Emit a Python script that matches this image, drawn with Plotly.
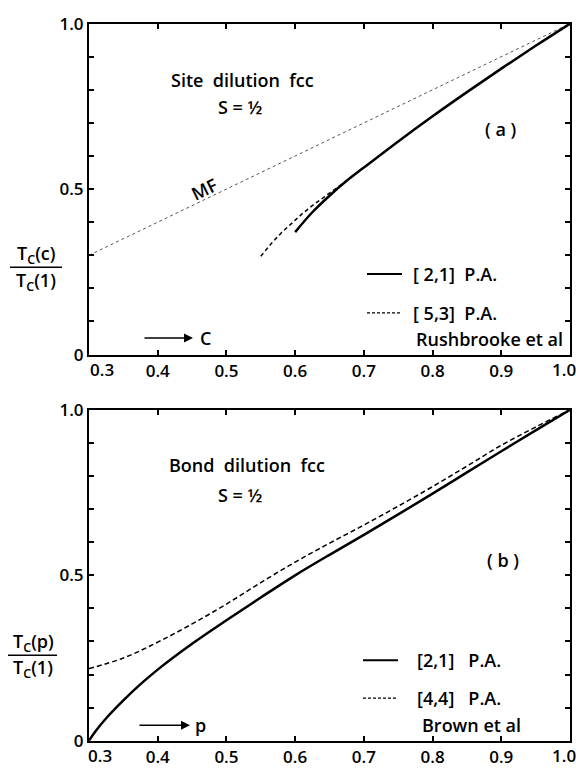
import plotly.graph_objects as go

# ---------------- data ----------------
# Panel (a): site dilution fcc
mf_x = [0.30, 1.00]
mf_y = [0.30, 1.00]

site21_x = [0.60, 0.625, 0.65, 0.675, 0.70, 0.75, 0.80, 0.85, 0.90, 0.95, 1.00]
site21_y = [0.37, 0.43, 0.48, 0.525, 0.565, 0.644, 0.72, 0.793, 0.864, 0.933, 1.00]

site53_x = [0.55, 0.565, 0.58, 0.595, 0.61, 0.625, 0.64, 0.66, 0.68, 0.70]
site53_y = [0.297, 0.335, 0.368, 0.398, 0.425, 0.450, 0.472, 0.502, 0.533, 0.565]

# Panel (b): bond dilution fcc
bond21_x = [0.30, 0.31, 0.325, 0.35, 0.375, 0.40, 0.45, 0.50, 0.55, 0.60, 0.65, 0.70, 0.75, 0.80, 0.85, 0.90, 0.95, 1.00]
bond21_y = [0.00, 0.03, 0.068, 0.122, 0.171, 0.215, 0.293, 0.364, 0.433, 0.50, 0.562, 0.622, 0.684, 0.747, 0.811, 0.875, 0.938, 1.00]

bond44_x = [0.30, 0.35, 0.40, 0.45, 0.50, 0.55, 0.60, 0.65, 0.70, 0.75, 0.80, 0.85, 0.90, 0.95, 1.00]
bond44_y = [0.218, 0.250, 0.298, 0.353, 0.413, 0.478, 0.540, 0.597, 0.652, 0.709, 0.768, 0.830, 0.893, 0.948, 1.00]

x_ticks = [0.4, 0.5, 0.6, 0.7, 0.8, 0.9]
x_ticktext = ["0.4", "0.5", "0.6", "0.7", "0.8", "0.9"]
y_ticks = [0.0, 0.5, 1.0]
y_ticktext = ["0", "0.5", "1.0"]

W, H = 576, 777
FONT = "Open Sans"
WEIGHT = 600


def px(x):
    return x / W


def py(y):
    return 1 - y / H


fig = go.Figure()

# Panel (a)
fig.add_trace(go.Scatter(x=mf_x, y=mf_y, mode="lines", xaxis="x", yaxis="y",
                         line=dict(color="#555", width=1, dash="dot"), showlegend=False))
fig.add_trace(go.Scatter(x=site53_x, y=site53_y, mode="lines", xaxis="x", yaxis="y",
                         line=dict(color="black", width=1.5, dash="4px,3px"),
                         showlegend=False))
fig.add_trace(go.Scatter(x=site21_x, y=site21_y, mode="lines", xaxis="x", yaxis="y",
                         line=dict(color="black", width=2.5, shape="spline"), showlegend=False))

# Panel (b)
fig.add_trace(go.Scatter(x=bond44_x, y=bond44_y, mode="lines", xaxis="x2", yaxis="y2",
                         line=dict(color="black", width=1.5, dash="5px,3px", shape="spline"),
                         showlegend=False))
fig.add_trace(go.Scatter(x=bond21_x, y=bond21_y, mode="lines", xaxis="x2", yaxis="y2",
                         line=dict(color="black", width=2.5, shape="spline"), showlegend=False))

tickfont = dict(family=FONT, size=17, color="black", weight=WEIGHT)
axis_common = dict(showgrid=False, zeroline=False, showline=True, linecolor="black",
                   linewidth=2, mirror="ticks", ticks="inside", ticklen=5, tickwidth=1.5,
                   tickcolor="black", tickfont=tickfont)
yminor = dict(dtick=0.1, tick0=0, ticks="inside", ticklen=5, tickwidth=1.5, tickcolor="black",
              showgrid=False)

xdom = [px(89), px(570)]
fig.update_layout(
    width=W, height=H,
    margin=dict(l=0, r=0, t=0, b=0),
    paper_bgcolor="white", plot_bgcolor="white",
    font=dict(family=FONT, color="black"),
    xaxis=dict(domain=xdom, range=[0.3, 1.0], tickvals=x_ticks, ticktext=x_ticktext,
               anchor="y", **axis_common),
    yaxis=dict(domain=[py(353), py(12)], range=[0, 1.0], tickvals=y_ticks,
               ticktext=y_ticktext, anchor="x", minor=yminor, **axis_common),
    xaxis2=dict(domain=xdom, range=[0.3, 1.0], tickvals=x_ticks, ticktext=x_ticktext,
                anchor="y2", **axis_common),
    yaxis2=dict(domain=[py(751), py(410)], range=[0, 1.0], tickvals=y_ticks,
                ticktext=y_ticktext, anchor="x2", minor=yminor, **axis_common),
)

ann = []
shapes = []


def text(x, y, s, size=18, xanchor="center", angle=0):
    ann.append(dict(x=px(x), y=py(y), xref="paper", yref="paper", text=s, showarrow=False,
                    xanchor=xanchor, yanchor="middle", textangle=angle,
                    font=dict(family=FONT, size=size, color="black", weight=WEIGHT)))


def hline(x0, x1, y, width=2, dash="solid"):
    shapes.append(dict(type="line", xref="paper", yref="paper", x0=px(x0), x1=px(x1),
                       y0=py(y), y1=py(y), line=dict(color="black", width=width, dash=dash)))


def arrow(x0, x1, y):
    ann.append(dict(x=px(x1), y=py(y), xref="paper", yref="paper", ax=-(x1 - x0), ay=0,
                    text="", showarrow=True, arrowhead=2, arrowsize=1.2, arrowwidth=1.5,
                    arrowcolor="black"))


# end tick labels placed like the reference
text(102, 368, "0.3", size=17)
text(564, 368, "1.0", size=17)
text(100, 766, "0.3", size=17)
text(564, 766, "1.0", size=17)

# ---- Panel (a) texts ----
text(242, 70, "Site  dilution  fcc")
text(240, 98, "S = ½")
text(500, 121, "( a )")
text(204, 182, "MF", angle=-26)
hline(367, 402, 270, width=2)
text(411, 270, "[ 2,1]  P.A.", xanchor="left")
hline(367, 402, 310, width=1.2, dash="3px,2px")
text(411, 310, "[ 5,3]  P.A.", xanchor="left")
text(414, 337, "Rushbrooke et al", xanchor="left")
arrow(143, 193, 336)
text(205, 336, "C")
text(36, 250, "T<sub>C</sub>(c)")
hline(10, 62, 263, width=1.5)
text(36, 278, "T<sub>C</sub>(1)")

# ---- Panel (b) texts ----
text(247, 467, "Bond  dilution  fcc")
text(240, 498, "S = ½")
text(503, 565, "( b )")
hline(363, 398, 668, width=2)
text(415, 668, "[2,1]   P.A.", xanchor="left")
hline(363, 398, 707, width=1.2, dash="3px,2px")
text(415, 707, "[4,4]   P.A.", xanchor="left")
text(420, 735, "Brown et al", xanchor="left")
arrow(138, 190, 735)
text(200, 735, "p")
text(33, 650, "T<sub>C</sub>(p)")
hline(8, 57, 663, width=1.5)
text(33, 677, "T<sub>C</sub>(1)")

fig.update_layout(annotations=ann, shapes=shapes)

fig.write_html("out.html")
